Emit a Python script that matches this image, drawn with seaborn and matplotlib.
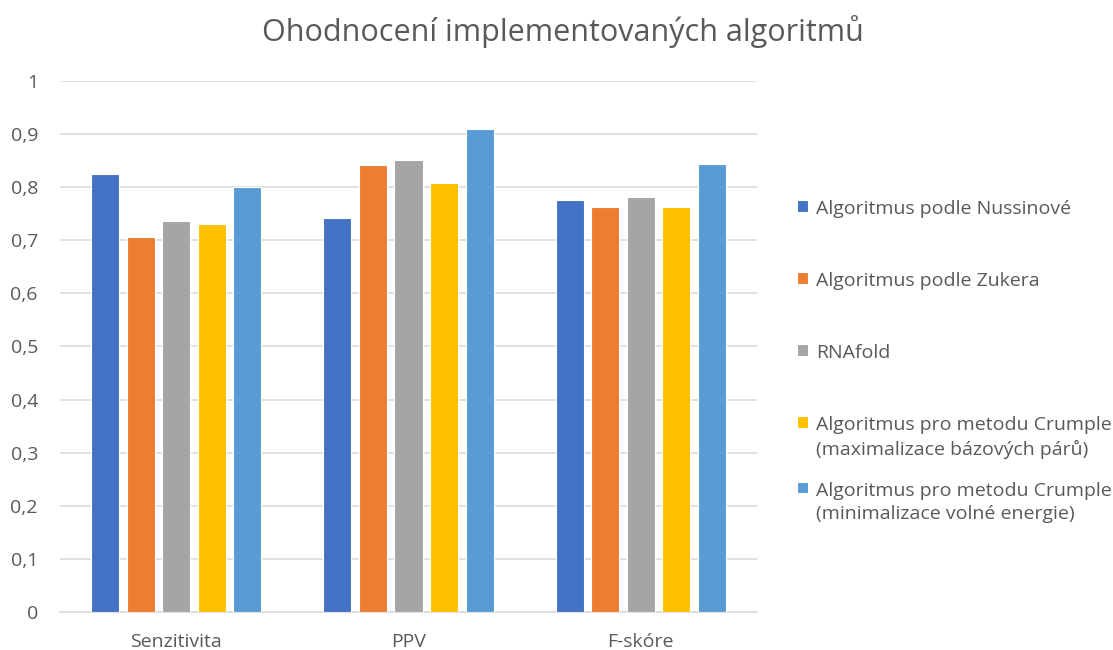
import matplotlib
matplotlib.use("Agg")
import matplotlib.pyplot as plt
import seaborn as sns
import pandas as pd

categories = ["Senzitivita", "PPV", "F-skóre"]
series_names = [
    "Algoritmus podle Nussinové",
    "Algoritmus podle Zukera",
    "RNAfold",
    "Algoritmus pro metodu Crumple\n(maximalizace bázových párů)",
    "Algoritmus pro metodu Crumple\n(minimalizace volné energie)",
]
nussinov = [0.824, 0.742, 0.776]
zuker = [0.705, 0.841, 0.762]
rnafold = [0.736, 0.850, 0.781]
crumple_max = [0.730, 0.807, 0.762]
crumple_min = [0.799, 0.909, 0.843]
colors = ["#4472C4", "#ED7D31", "#A5A5A5", "#FFC000", "#5B9BD5"]
yticks = [0, 0.1, 0.2, 0.3, 0.4, 0.5, 0.6, 0.7, 0.8, 0.9, 1]
ytick_labels = ["0", "0,1", "0,2", "0,3", "0,4", "0,5", "0,6", "0,7", "0,8", "0,9", "1"]

rows = []
for name, vals in zip(series_names, [nussinov, zuker, rnafold, crumple_max, crumple_min]):
    for c, v in zip(categories, vals):
        rows.append({"metric": c, "alg": name, "value": v})
df = pd.DataFrame(rows)

sns.set_theme(style="white")
plt.rcParams["font.family"] = ["Open Sans", "DejaVu Sans"]
txt = "#595959"

fig = plt.figure(figsize=(11.13, 6.5), dpi=100)
ax = fig.add_axes([0.054, 0.058, 0.626, 0.818])
sns.barplot(data=df, x="metric", y="value", hue="alg", hue_order=series_names,
            order=categories, palette=colors, saturation=1, width=0.765, gap=0.21,
            edgecolor="white", linewidth=0.8, ax=ax, zorder=3)

ax.set_ylim(0, 1)
ax.set_xlim(-0.5, 2.5)
ax.set_yticks(yticks)
ax.set_yticklabels(ytick_labels)
ax.grid(axis="y", color="#D9D9D9", linewidth=1.1, zorder=0)
ax.set_axisbelow(True)
for s in ["top", "right", "left"]:
    ax.spines[s].set_visible(False)
ax.spines["bottom"].set_color("#D9D9D9")
ax.spines["bottom"].set_linewidth(1.1)
ax.tick_params(axis="y", length=0, pad=16, labelsize=14, labelcolor=txt)
ax.tick_params(axis="x", length=0, pad=15, labelsize=14, labelcolor=txt)
ax.set_xlabel("")
ax.set_ylabel("")

handles, labels = ax.get_legend_handles_labels()
ax.get_legend().remove()

common = dict(loc="upper left", frameon=False, fontsize=14, handlelength=0.55,
              handleheight=0.55, handletextpad=0.45, borderpad=0, borderaxespad=0,
              labelcolor=txt)
leg1 = fig.legend(handles[:4], labels[:4], bbox_to_anchor=(0.716, 0.692),
                  labelspacing=2.78, **common)
leg2 = fig.legend(handles[4:], labels[4:], bbox_to_anchor=(0.716, 0.259), **common)
for leg in (leg1, leg2):
    for t in leg.get_texts():
        t.set_linespacing(1.4)
    for col in leg._legend_handle_box.get_children():
        for hp in col.get_children():
            hp.align = "top"

fig.text(0.506, 0.951, "Ohodnocení implementovaných algoritmů", ha="center",
         va="center", fontsize=22, color=txt)

fig.savefig("out.png", dpi=100)
